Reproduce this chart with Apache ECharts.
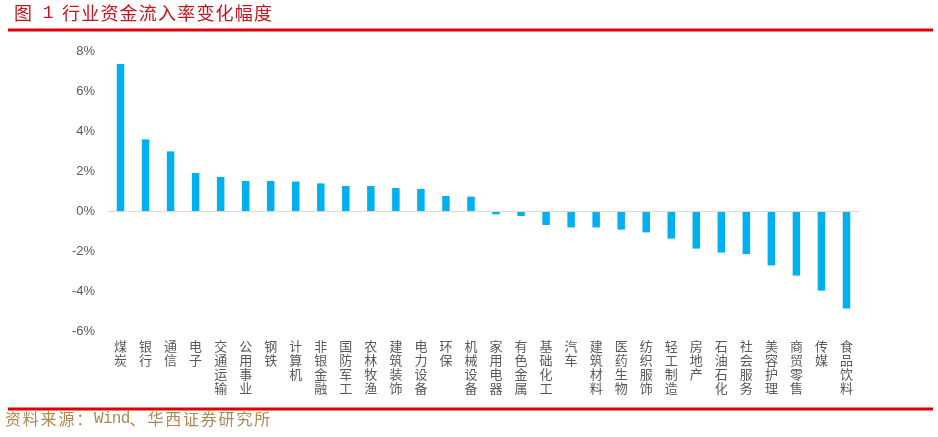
<!DOCTYPE html>
<html>
<head>
<meta charset="utf-8">
<script src="https://cdn.jsdelivr.net/npm/echarts@6/dist/echarts.min.js"></script>
<style>
html,body{margin:0;padding:0;background:#fff;}
#chart{width:938px;height:437px;}
</style>
</head>
<body>
<div id="chart"></div>
<script>
const categories = ['煤炭','银行','通信','电子','交通运输','公用事业','钢铁','计算机','非银金融','国防军工','农林牧渔','建筑装饰','电力设备','环保','机械设备','家用电器','有色金属','基础化工','汽车','建筑材料','医药生物','纺织服饰','轻工制造','房地产','石油石化','社会服务','美容护理','商贸零售','传媒','食品饮料'];
const values = [7.35,3.58,2.98,1.9,1.7,1.5,1.5,1.47,1.38,1.25,1.25,1.15,1.1,0.75,0.72,-0.17,-0.25,-0.7,-0.82,-0.82,-0.93,-1.07,-1.38,-1.88,-2.08,-2.15,-2.72,-3.23,-3.98,-4.88];
const titleText = '图 1 行业资金流入率变化幅度';
const sourceText = '资料来源：Wind、华西证券研究所';

// fixed-pitch text layout helper (full-width CJK, half-width Latin)
function pitchText(str, x0, yTop, unit, size, color) {
  const out = [];
  let x = x0;
  for (const ch of str) {
    const half = /[\x20-\x7e]/.test(ch);
    if (ch !== ' ') {
      out.push({type:'text', x: x, y: yTop, silent:true,
        style:{text: ch, fill: color, fontSize: size,
          fontFamily: half ? 'Liberation Mono' : 'Noto Sans CJK SC',
          textVerticalAlign:'top'}});
    }
    x += half ? unit/2 : unit;
  }
  return out;
}

const chart = echarts.init(document.getElementById('chart'), null, {renderer:'canvas'});
chart.setOption({
  animation:false,
  backgroundColor:'#fff',
  grid:{left:108, right:79, top:51, bottom:106, containLabel:false},
  xAxis:{
    type:'category', data:categories,
    axisLine:{show:false, onZero:false}, axisTick:{show:false},
    axisLabel:{interval:0, margin:8, color:'#595959', fontSize:13, lineHeight:14,
      fontFamily:'Noto Sans CJK SC',
      formatter:v=>v.split('').join('\n')}
  },
  yAxis:{
    type:'value', min:-6, max:8, interval:2,
    axisLine:{show:false}, axisTick:{show:false}, splitLine:{show:false},
    axisLabel:{color:'#595959', fontSize:13, margin:13, fontFamily:'Liberation Sans',
      formatter:v=>v+'%'}
  },
  series:[{
    type:'bar', data:values, barWidth:7.5,
    itemStyle:{color:'#00b0f0'},
    markLine:{silent:true, symbol:'none', label:{show:false},
      lineStyle:{color:'#d9d9d9', width:1, type:'solid'},
      data:[{yAxis:0}]}
  }],
  graphic:[].concat(
    pitchText(titleText, 14, 4, 19.2, 18, '#c8141e'),
    [{type:'rect', shape:{x:8, y:28.5, width:925, height:3}, style:{fill:'#e00000'}},
     {type:'rect', shape:{x:8, y:407.5, width:925, height:3}, style:{fill:'#e00000'}}],
    pitchText(sourceText, 5, 411, 17.8, 16, '#b08850')
  )
});
</script>
</body>
</html>
